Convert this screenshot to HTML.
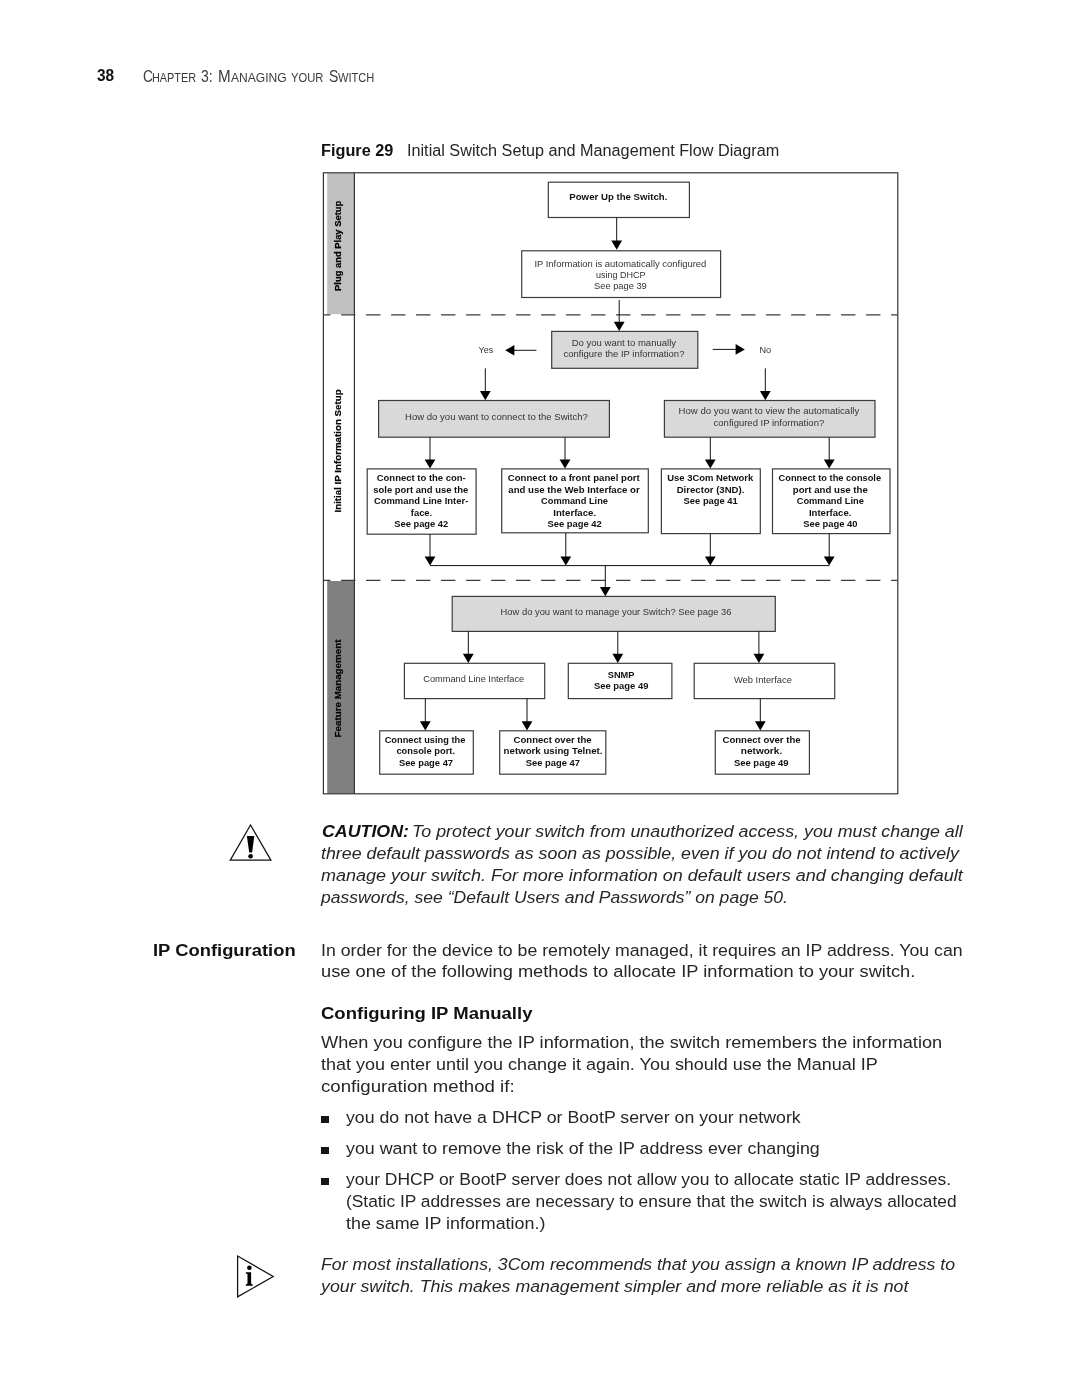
<!DOCTYPE html>
<html lang="en"><head><meta charset="utf-8"><title>Chapter 3: Managing Your Switch</title>
<style>
html,body{margin:0;padding:0;background:#fff;}
body{width:1080px;height:1397px;position:relative;overflow:hidden;font-family:"Liberation Sans", sans-serif;color:#1c1c1c;}
#page{position:absolute;left:0;top:0;width:1080px;height:1397px;will-change:transform;}
svg{position:absolute;left:0;top:0;}
.t{position:absolute;white-space:pre;line-height:1;transform-origin:0 0;margin:0;}
.r{font-weight:400;color:#262626;}
.i{font-style:italic;color:#262626;}
.b{font-weight:700;color:#111;}
.bi{font-weight:700;font-style:italic;color:#111;}
.sc{color:#3a3a3a;}
.bul{position:absolute;width:7.4px;height:7.2px;background:#151515;}
</style></head>
<body>
<div id="page">
<svg width="1080" height="1397" viewBox="0 0 1080 1397">
<rect x="327.2" y="173.2" width="27.0" height="141.0" fill="#c0c0c0"/>
<rect x="327.2" y="581.0" width="27.0" height="212.6" fill="#808080"/>
<g fill="none" stroke="#333" stroke-width="1.2">
<rect x="323.4" y="172.8" width="574.4" height="621.0"/>
<line x1="354.4" y1="172.8" x2="354.4" y2="793.8"/>
<path d="M316.1 314.8H897.8M316.1 580.4H897.8" stroke-dasharray="14.3 10.7" stroke="#3a3a3a" stroke-width="1.3" clip-path="url(#cf)"/>
</g>
<defs><clipPath id="cf"><rect x="323.4" y="300" width="574.4" height="300"/></clipPath></defs>
<g stroke="#3c3c3c" stroke-width="1.2" fill="#fff">
<rect x="548.3" y="182.2" width="141.1" height="35.3"/><rect x="521.7" y="250.8" width="198.9" height="46.7"/><rect x="367.2" y="468.9" width="108.9" height="65.3"/><rect x="501.7" y="468.9" width="146.6" height="63.9"/><rect x="661.4" y="468.9" width="98.9" height="64.7"/><rect x="772.5" y="468.9" width="117.5" height="64.7"/><rect x="404.4" y="663.3" width="140.3" height="35.3"/><rect x="568.3" y="663.3" width="103.6" height="35.3"/><rect x="694.2" y="663.3" width="140.5" height="35.3"/><rect x="379.7" y="730.8" width="93.6" height="43.4"/><rect x="499.7" y="730.8" width="106.1" height="43.4"/><rect x="715.3" y="730.8" width="94.1" height="43.4"/>
</g>
<g stroke="#3c3c3c" stroke-width="1.2" fill="#d9d9d9">
<rect x="551.7" y="331.4" width="146.1" height="36.9"/><rect x="378.6" y="400.5" width="230.8" height="36.7"/><rect x="664.4" y="400.5" width="210.6" height="36.7"/><rect x="452.2" y="596.4" width="323.1" height="35.0"/>
</g>
<g stroke="#111" stroke-width="1" fill="#000">
<line x1="616.7" y1="217.5" x2="616.7" y2="241.6"/><polygon stroke="none" points="611.3,240.6 622.1,240.6 616.7,249.8"/><line x1="619.2" y1="300.0" x2="619.2" y2="322.7"/><polygon stroke="none" points="613.8,321.7 624.6,321.7 619.2,330.9"/><line x1="485.3" y1="368.3" x2="485.3" y2="392.0"/><polygon stroke="none" points="479.9,391.0 490.7,391.0 485.3,400.2"/><line x1="765.3" y1="368.3" x2="765.3" y2="392.0"/><polygon stroke="none" points="759.9,391.0 770.7,391.0 765.3,400.2"/><line x1="430.0" y1="437.2" x2="430.0" y2="460.4"/><polygon stroke="none" points="424.6,459.4 435.4,459.4 430.0,468.6"/><line x1="565.0" y1="437.2" x2="565.0" y2="460.4"/><polygon stroke="none" points="559.6,459.4 570.4,459.4 565.0,468.6"/><line x1="710.3" y1="437.2" x2="710.3" y2="460.4"/><polygon stroke="none" points="704.9,459.4 715.7,459.4 710.3,468.6"/><line x1="829.2" y1="437.2" x2="829.2" y2="460.4"/><polygon stroke="none" points="823.8,459.4 834.6,459.4 829.2,468.6"/><line x1="430.0" y1="534.2" x2="430.0" y2="557.4"/><polygon stroke="none" points="424.6,556.4 435.4,556.4 430.0,565.6"/><line x1="565.8" y1="532.8" x2="565.8" y2="557.4"/><polygon stroke="none" points="560.4,556.4 571.2,556.4 565.8,565.6"/><line x1="710.3" y1="533.6" x2="710.3" y2="557.4"/><polygon stroke="none" points="704.9,556.4 715.7,556.4 710.3,565.6"/><line x1="829.2" y1="533.6" x2="829.2" y2="557.4"/><polygon stroke="none" points="823.8,556.4 834.6,556.4 829.2,565.6"/><line x1="605.3" y1="565.6" x2="605.3" y2="588.0"/><polygon stroke="none" points="599.9,587.0 610.7,587.0 605.3,596.2"/><line x1="468.3" y1="631.4" x2="468.3" y2="654.8"/><polygon stroke="none" points="462.9,653.8 473.7,653.8 468.3,663.0"/><line x1="617.8" y1="631.4" x2="617.8" y2="654.8"/><polygon stroke="none" points="612.4,653.8 623.2,653.8 617.8,663.0"/><line x1="758.9" y1="631.4" x2="758.9" y2="654.8"/><polygon stroke="none" points="753.5,653.8 764.3,653.8 758.9,663.0"/><line x1="425.3" y1="698.6" x2="425.3" y2="722.3"/><polygon stroke="none" points="419.9,721.3 430.7,721.3 425.3,730.5"/><line x1="527.0" y1="698.6" x2="527.0" y2="722.3"/><polygon stroke="none" points="521.6,721.3 532.4,721.3 527.0,730.5"/><line x1="760.3" y1="698.6" x2="760.3" y2="722.3"/><polygon stroke="none" points="754.9,721.3 765.7,721.3 760.3,730.5"/><line x1="430" y1="565.6" x2="829.2" y2="565.6"/><line x1="536.4" y1="350.3" x2="514" y2="350.3"/><polygon stroke="none" points="514.4,345 514.4,355.6 505.2,350.3"/><line x1="712.8" y1="349.4" x2="736" y2="349.4"/><polygon stroke="none" points="735.6,344.1 735.6,354.7 744.8,349.4"/>
</g>
<g font-family='"Liberation Sans", sans-serif' font-size="9.9" fill="#333">
<text x="569.3" y="200.4" textLength="98.1" lengthAdjust="spacingAndGlyphs" font-weight="700" fill="#111" font-size="9.7">Power Up the Switch.</text>
<text x="534.4" y="266.6" textLength="171.9" lengthAdjust="spacingAndGlyphs">IP Information is automatically configured</text>
<text x="596.1" y="278.0" textLength="49.5" lengthAdjust="spacingAndGlyphs">using DHCP</text>
<text x="594.0" y="289.4" textLength="52.8" lengthAdjust="spacingAndGlyphs">See page 39</text>
<text x="478.6" y="353.3" textLength="14.7" lengthAdjust="spacingAndGlyphs">Yes</text>
<text x="759.4" y="352.8" textLength="11.7" lengthAdjust="spacingAndGlyphs">No</text>
<text x="571.7" y="345.8" textLength="104.4" lengthAdjust="spacingAndGlyphs">Do you want to manually</text>
<text x="563.6" y="357.4" textLength="120.8" lengthAdjust="spacingAndGlyphs">configure the IP information?</text>
<text x="405.0" y="420.3" textLength="182.8" lengthAdjust="spacingAndGlyphs">How do you want to connect to the Switch?</text>
<text x="678.6" y="414.4" textLength="180.6" lengthAdjust="spacingAndGlyphs">How do you want to view the automatically</text>
<text x="713.6" y="425.8" textLength="110.6" lengthAdjust="spacingAndGlyphs">configured IP information?</text>
<text x="376.7" y="481.2" textLength="89.1" lengthAdjust="spacingAndGlyphs" font-weight="700" fill="#111" font-size="9.7">Connect to the con-</text>
<text x="373.3" y="492.7" textLength="95.0" lengthAdjust="spacingAndGlyphs" font-weight="700" fill="#111" font-size="9.7">sole port and use the</text>
<text x="373.9" y="504.1" textLength="94.4" lengthAdjust="spacingAndGlyphs" font-weight="700" fill="#111" font-size="9.7">Command Line Inter-</text>
<text x="410.8" y="515.5" textLength="21.4" lengthAdjust="spacingAndGlyphs" font-weight="700" fill="#111" font-size="9.7">face.</text>
<text x="394.2" y="526.9" textLength="54.1" lengthAdjust="spacingAndGlyphs" font-weight="700" fill="#111" font-size="9.7">See page 42</text>
<text x="507.8" y="481.2" textLength="131.9" lengthAdjust="spacingAndGlyphs" font-weight="700" fill="#111" font-size="9.7">Connect to a front panel port</text>
<text x="508.3" y="492.7" textLength="131.4" lengthAdjust="spacingAndGlyphs" font-weight="700" fill="#111" font-size="9.7">and use the Web Interface or</text>
<text x="541.1" y="504.1" textLength="66.9" lengthAdjust="spacingAndGlyphs" font-weight="700" fill="#111" font-size="9.7">Command Line</text>
<text x="553.3" y="515.5" textLength="42.8" lengthAdjust="spacingAndGlyphs" font-weight="700" fill="#111" font-size="9.7">Interface.</text>
<text x="547.5" y="526.9" textLength="54.2" lengthAdjust="spacingAndGlyphs" font-weight="700" fill="#111" font-size="9.7">See page 42</text>
<text x="667.2" y="481.2" textLength="86.1" lengthAdjust="spacingAndGlyphs" font-weight="700" fill="#111" font-size="9.7">Use 3Com Network</text>
<text x="676.7" y="492.7" textLength="67.7" lengthAdjust="spacingAndGlyphs" font-weight="700" fill="#111" font-size="9.7">Director (3ND).</text>
<text x="683.6" y="504.1" textLength="54.2" lengthAdjust="spacingAndGlyphs" font-weight="700" fill="#111" font-size="9.7">See page 41</text>
<text x="778.6" y="481.2" textLength="102.5" lengthAdjust="spacingAndGlyphs" font-weight="700" fill="#111" font-size="9.7">Connect to the console</text>
<text x="792.8" y="492.7" textLength="75.0" lengthAdjust="spacingAndGlyphs" font-weight="700" fill="#111" font-size="9.7">port and use the</text>
<text x="796.7" y="504.1" textLength="67.2" lengthAdjust="spacingAndGlyphs" font-weight="700" fill="#111" font-size="9.7">Command Line</text>
<text x="808.9" y="515.5" textLength="42.5" lengthAdjust="spacingAndGlyphs" font-weight="700" fill="#111" font-size="9.7">Interface.</text>
<text x="803.3" y="526.9" textLength="54.2" lengthAdjust="spacingAndGlyphs" font-weight="700" fill="#111" font-size="9.7">See page 40</text>
<text x="500.6" y="615.3" textLength="230.8" lengthAdjust="spacingAndGlyphs">How do you want to manage your Switch? See page 36</text>
<text x="423.3" y="682.4" textLength="100.9" lengthAdjust="spacingAndGlyphs">Command Line Interface</text>
<text x="607.8" y="677.9" textLength="26.6" lengthAdjust="spacingAndGlyphs" font-weight="700" fill="#111" font-size="9.7">SNMP</text>
<text x="593.9" y="689.0" textLength="54.5" lengthAdjust="spacingAndGlyphs" font-weight="700" fill="#111" font-size="9.7">See page 49</text>
<text x="733.9" y="682.8" textLength="58.0" lengthAdjust="spacingAndGlyphs">Web Interface</text>
<text x="384.7" y="742.8" textLength="80.6" lengthAdjust="spacingAndGlyphs" font-weight="700" fill="#111" font-size="9.7">Connect using the</text>
<text x="396.4" y="754.3" textLength="58.6" lengthAdjust="spacingAndGlyphs" font-weight="700" fill="#111" font-size="9.7">console port.</text>
<text x="398.9" y="765.7" textLength="54.2" lengthAdjust="spacingAndGlyphs" font-weight="700" fill="#111" font-size="9.7">See page 47</text>
<text x="513.6" y="742.8" textLength="78.1" lengthAdjust="spacingAndGlyphs" font-weight="700" fill="#111" font-size="9.7">Connect over the</text>
<text x="503.6" y="754.3" textLength="98.9" lengthAdjust="spacingAndGlyphs" font-weight="700" fill="#111" font-size="9.7">network using Telnet.</text>
<text x="525.8" y="765.7" textLength="54.2" lengthAdjust="spacingAndGlyphs" font-weight="700" fill="#111" font-size="9.7">See page 47</text>
<text x="722.5" y="742.8" textLength="78.1" lengthAdjust="spacingAndGlyphs" font-weight="700" fill="#111" font-size="9.7">Connect over the</text>
<text x="740.8" y="754.3" textLength="41.4" lengthAdjust="spacingAndGlyphs" font-weight="700" fill="#111" font-size="9.7">network.</text>
<text x="733.9" y="765.7" textLength="54.7" lengthAdjust="spacingAndGlyphs" font-weight="700" fill="#111" font-size="9.7">See page 49</text>
<text transform="translate(340.6 290.9) rotate(-90)" textLength="90.1" lengthAdjust="spacingAndGlyphs" font-weight="700" font-size="9.7" fill="#000" stroke="#000" stroke-width="0.22">Plug and Play Setup</text>
<text transform="translate(340.6 512.5) rotate(-90)" textLength="123.1" lengthAdjust="spacingAndGlyphs" font-weight="700" font-size="9.7" fill="#000" stroke="#000" stroke-width="0.22">Initial IP Information Setup</text>
<text transform="translate(340.6 737.4) rotate(-90)" textLength="97.8" lengthAdjust="spacingAndGlyphs" font-weight="700" font-size="9.7" fill="#000" stroke="#000" stroke-width="0.22">Feature Management</text>
</g>
<polygon points="250.5,825.0 230.3,860.2 270.9,860.2" fill="#fff" stroke="#111" stroke-width="1.25" stroke-linejoin="miter"/>
<path d="M246.9 836.0H254.3L252.1 852.6H249.2Z" fill="#000"/><circle cx="250.6" cy="856.3" r="2.3" fill="#000"/>
<polygon points="237.6,1256.0 237.6,1296.9 273.2,1276.5" fill="#fff" stroke="#111" stroke-width="1.25" stroke-linejoin="miter"/>
<path d="M245.8 1272.2H251.1V1283.6L252.8 1284.8V1285.8H245.8V1284.8L247.5 1283.6V1274.3L245.8 1273.3Z" fill="#000"/><circle cx="249.4" cy="1267.8" r="2.3" fill="#000"/>
</svg>
<div class="t b" style="left:97.3px;top:67.40px;font-size:16.3px;transform:scaleX(0.9474)">38</div>
<div class="t b" style="left:320.6px;top:142.90px;font-size:16.0px;transform:scaleX(1.0170)">Figure 29</div>
<div class="t r" style="left:406.8px;top:142.90px;font-size:16.0px;transform:scaleX(1.0134)">Initial Switch Setup and Management Flow Diagram</div>
<div class="t bi" style="left:321.5px;top:823.40px;font-size:17.4px;transform:scaleX(1.0232)">CAUTION:</div>
<div class="t i" style="left:412.1px;top:824.40px;font-size:16.9px;transform:scaleX(1.0562)">To protect your switch from unauthorized access, you must change all</div>
<div class="t i" style="left:320.6px;top:846.40px;font-size:16.9px;transform:scaleX(1.0534)">three default passwords as soon as possible, even if you do not intend to actively</div>
<div class="t i" style="left:321.1px;top:868.40px;font-size:16.9px;transform:scaleX(1.0646)">manage your switch. For more information on default users and changing default</div>
<div class="t i" style="left:321.1px;top:890.40px;font-size:16.9px;transform:scaleX(1.0382)">passwords, see “Default Users and Passwords” on page 50.</div>
<div class="t b" style="left:153.2px;top:941.90px;font-size:17.4px;transform:scaleX(1.0575)">IP Configuration</div>
<div class="t r" style="left:321.2px;top:942.50px;font-size:16.9px;transform:scaleX(1.0470)">In order for the device to be remotely managed, it requires an IP address. You can</div>
<div class="t r" style="left:321.2px;top:964.30px;font-size:16.9px;transform:scaleX(1.0808)">use one of the following methods to allocate IP information to your switch.</div>
<div class="t b" style="left:320.9px;top:1005.10px;font-size:17.4px;transform:scaleX(1.0641)">Configuring IP Manually</div>
<div class="t r" style="left:321.3px;top:1035.40px;font-size:16.9px;transform:scaleX(1.0746)">When you configure the IP information, the switch remembers the information</div>
<div class="t r" style="left:321.3px;top:1057.20px;font-size:16.9px;transform:scaleX(1.0645)">that you enter until you change it again. You should use the Manual IP</div>
<div class="t r" style="left:320.9px;top:1079.00px;font-size:16.9px;transform:scaleX(1.1024)">configuration method if:</div>
<div class="t r" style="left:346.4px;top:1109.70px;font-size:16.9px;transform:scaleX(1.0497)">you do not have a DHCP or BootP server on your network</div>
<div class="t r" style="left:346.4px;top:1140.60px;font-size:16.9px;transform:scaleX(1.0542)">you want to remove the risk of the IP address ever changing</div>
<div class="t r" style="left:346.4px;top:1171.70px;font-size:16.9px;transform:scaleX(1.0344)">your DHCP or BootP server does not allow you to allocate static IP addresses.</div>
<div class="t r" style="left:345.6px;top:1193.70px;font-size:16.9px;transform:scaleX(1.0264)">(Static IP addresses are necessary to ensure that the switch is always allocated</div>
<div class="t r" style="left:346.4px;top:1215.70px;font-size:16.9px;transform:scaleX(1.0582)">the same IP information.)</div>
<div class="t i" style="left:321.4px;top:1257.00px;font-size:16.9px;transform:scaleX(1.0465)">For most installations, 3Com recommends that you assign a known IP address to</div>
<div class="t i" style="left:320.6px;top:1279.00px;font-size:16.9px;transform:scaleX(1.0515)">your switch. This makes management simpler and more reliable as it is not</div>
<span class="t sc" style="left:142.50px;top:67.50px;font-size:16.4px;transform:scaleX(0.8362)">C</span><span class="t sc" style="left:152.40px;top:70.50px;font-size:13.0px;transform:scaleX(0.8362)">HAPTER</span><span class="t sc" style="left:200.90px;top:67.50px;font-size:16.4px;transform:scaleX(0.8558)">3:</span><span class="t sc" style="left:218.40px;top:67.50px;font-size:16.4px;transform:scaleX(0.9290)">M</span><span class="t sc" style="left:231.09px;top:70.50px;font-size:13.0px;transform:scaleX(0.9290)">ANAGING</span><span class="t sc" style="left:291.40px;top:70.50px;font-size:13.0px;transform:scaleX(0.8599)">YOUR</span><span class="t sc" style="left:328.60px;top:67.50px;font-size:16.4px;transform:scaleX(0.8535)">S</span><span class="t sc" style="left:337.93px;top:70.50px;font-size:13.0px;transform:scaleX(0.8535)">WITCH</span>
<div class="bul" style="left:321.4px;top:1116.2px"></div>
<div class="bul" style="left:321.4px;top:1146.9px"></div>
<div class="bul" style="left:321.4px;top:1177.7px"></div>
</div>
</body></html>
